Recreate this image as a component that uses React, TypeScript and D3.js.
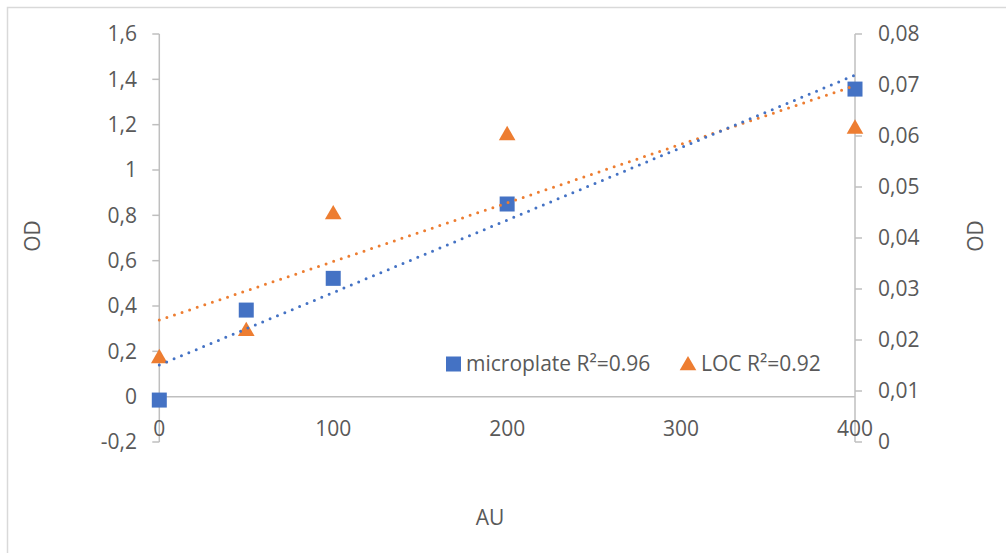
import React from "react";
import * as d3 from "d3";

// AU concentrations shared by both series
const auValues = [0, 50, 100, 200, 400];
// Optical density, microplate reader (primary axis)
const microplateOD = [-0.015, 0.382, 0.522, 0.85, 1.357];
// Optical density, lab-on-chip (secondary axis)
const locOD = [0.0167, 0.022, 0.0449, 0.0604, 0.0617];

const xTicks = [0, 100, 200, 300, 400];
const leftTicks = [-0.2, 0, 0.2, 0.4, 0.6, 0.8, 1, 1.2, 1.4, 1.6];
const rightTicks = [0, 0.01, 0.02, 0.03, 0.04, 0.05, 0.06, 0.07, 0.08];
const legendLabels = ["microplate R²=0.96", "LOC R²=0.92"];

const W = 1006;
const H = 553;
const BLUE = "#4472C4";
const ORANGE = "#ED7D31";
const AXIS = "#BFBFBF";
const TEXT = "#595959";
const FONT = "'Open Sans', 'Noto Sans', sans-serif";
const FS = 21;

const fmt = (v: number) => {
  const s = d3.format("~r")(+v.toFixed(4));
  return s.replace(".", ",").replace("−", "-");
};

function linearFit(xs: number[], ys: number[]) {
  const mx = d3.mean(xs)!;
  const my = d3.mean(ys)!;
  let sxy = 0;
  let sxx = 0;
  xs.forEach((x, i) => {
    sxy += (x - mx) * (ys[i] - my);
    sxx += (x - mx) * (x - mx);
  });
  const slope = sxy / sxx;
  return { slope, intercept: my - slope * mx };
}

export default function App() {
  const plotTop = 34;
  const plotBottom = 442;
  const x = d3.scaleLinear().domain([0, 400]).range([159.3, 855]);
  const yL = d3.scaleLinear().domain([-0.2, 1.6]).range([plotBottom, plotTop]);
  const yR = d3.scaleLinear().domain([0, 0.08]).range([plotBottom, plotTop]);

  const fitB = linearFit(auValues, microplateOD);
  const fitO = linearFit(auValues, locOD);
  const xs = x.domain();
  const lineB = d3
    .line<number>()
    .x((d) => x(d))
    .y((d) => yL(fitB.intercept + fitB.slope * d));
  const lineO = d3
    .line<number>()
    .x((d) => x(d))
    .y((d) => yR(fitO.intercept + fitO.slope * d));

  const sq = 15;
  const tri = d3.symbol().type(d3.symbolTriangle).size(120)();
  const y0 = yL(0);

  return (
    <svg
      width={W}
      height={H}
      style={{ position: "absolute", left: 0, top: 0, background: "#fff" }}
      fontFamily={FONT}
    >
      <rect x={7.5} y={7.5} width={W + 10} height={H + 10} fill="#fff" stroke="#D9D9D9" strokeWidth={1.5} />

      {/* left axis */}
      <line x1={x(0)} x2={x(0)} y1={plotTop} y2={plotBottom} stroke={AXIS} strokeWidth={1.5} />
      {leftTicks.map((t) => (
        <g key={"l" + t}>
          <line x1={x(0) - 7} x2={x(0)} y1={yL(t)} y2={yL(t)} stroke={AXIS} strokeWidth={1.5} />
          <text x={137} y={yL(t)} dy="0.35em" textAnchor="end" fontSize={FS} fill={TEXT}>
            {fmt(t)}
          </text>
        </g>
      ))}

      {/* right axis */}
      <line x1={x(400)} x2={x(400)} y1={plotTop} y2={plotBottom} stroke={AXIS} strokeWidth={1.5} />
      {rightTicks.map((t) => (
        <g key={"r" + t}>
          <line x1={x(400)} x2={x(400) + 7} y1={yR(t)} y2={yR(t)} stroke={AXIS} strokeWidth={1.5} />
          <text x={878} y={yR(t)} dy="0.35em" textAnchor="start" fontSize={FS} fill={TEXT}>
            {fmt(t)}
          </text>
        </g>
      ))}

      {/* x axis at OD = 0 */}
      <line x1={x(0)} x2={x(400)} y1={y0} y2={y0} stroke={AXIS} strokeWidth={1.5} />
      {xTicks.map((t) => (
        <text key={"x" + t} x={x(t)} y={436} textAnchor="middle" fontSize={FS} fill={TEXT}>
          {t}
        </text>
      ))}

      {/* axis titles */}
      <text x={490} y={525} textAnchor="middle" fontSize={FS} fill={TEXT}>
        AU
      </text>
      <text transform={`translate(40,236) rotate(-90)`} textAnchor="middle" fontSize={FS} fill={TEXT}>
        OD
      </text>
      <text transform={`translate(983,236) rotate(-90)`} textAnchor="middle" fontSize={FS} fill={TEXT}>
        OD
      </text>

      {/* markers */}
      {auValues.map((a, i) => (
        <rect
          key={"b" + a}
          x={x(a) - sq / 2}
          y={yL(microplateOD[i]) - sq / 2}
          width={sq}
          height={sq}
          fill={BLUE}
        />
      ))}
      {auValues.map((a, i) => (
        <path key={"o" + a} d={tri!} transform={`translate(${x(a)},${yR(locOD[i]) + 1.5})`} fill={ORANGE} />
      ))}

      {/* linear trendlines */}
      <path d={lineO(xs)!} fill="none" stroke={ORANGE} strokeWidth={3} strokeDasharray="0 8" strokeLinecap="round" />
      <path d={lineB(xs)!} fill="none" stroke={BLUE} strokeWidth={3} strokeDasharray="0 8" strokeLinecap="round" />

      {/* legend */}
      <rect x={446} y={356.5} width={15} height={15} fill={BLUE} />
      <text x={466} y={371} fontSize={FS} fill={TEXT}>
        {legendLabels[0]}
      </text>
      <path d={tri!} transform="translate(688,365.5)" fill={ORANGE} />
      <text x={701} y={371} fontSize={FS} fill={TEXT}>
        {legendLabels[1]}
      </text>
    </svg>
  );
}
